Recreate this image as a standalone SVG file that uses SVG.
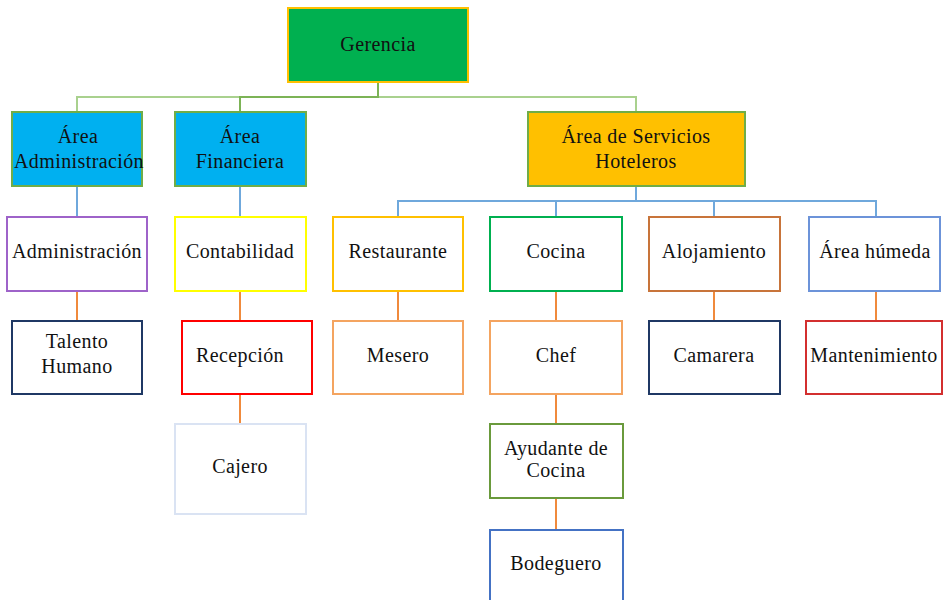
<svg xmlns="http://www.w3.org/2000/svg" width="944" height="600" viewBox="0 0 944 600">
<style>
text{font-family:"Liberation Serif","Times New Roman",serif;font-size:20px;fill:#111;text-anchor:middle;letter-spacing:0.4px}
.b{stroke-width:2}
.c{fill:none;stroke-width:2}
.g{stroke:#A9D18E}
.gd{stroke:#7CB356}
.bl{stroke:#6FA8DC}
.or{stroke:#F08A3C}
</style>
<rect width="944" height="600" fill="#fff"/>
<g id="connectors">
<path class="c g" d="M77 112V97H636V112"/>
<path class="c gd" d="M378 82V97H240V112"/>
<path class="c bl" d="M77 186V217M240 186V217"/>
<path class="c bl" d="M636 186V201M398 217V201H876V217M556 201V217M714 201V217"/>
<path class="c or" d="M77 291V321M240 291V321M240 394V424M398 291V321M556 291V321M556 394V424M556 498V530M714 291V321M876 291V321"/>
</g>
<g id="gerencia"><rect class="b" x="288" y="8" width="180" height="74" fill="#00B050" stroke="#FFC000"/><text x="378" y="51">Gerencia</text></g>
<g id="area-admin"><rect class="b" x="12" y="112" width="130" height="74" fill="#00B0F0" stroke="#70AD47"/><text x="78" y="143">Área</text><text x="79" y="168">Administración</text></g>
<g id="area-fin"><rect class="b" x="175" y="112" width="131" height="74" fill="#00B0F0" stroke="#70AD47"/><text x="240" y="143">Área</text><text x="240" y="168">Financiera</text></g>
<g id="area-serv"><rect class="b" x="528" y="112" width="217" height="74" fill="#FFC000" stroke="#70AD47"/><text x="636" y="143">Área de Servicios</text><text x="636" y="168">Hoteleros</text></g>
<g id="administracion"><rect class="b" x="7" y="217" width="140" height="74" fill="#fff" stroke="#9E63C9"/><text x="77" y="258">Administración</text></g>
<g id="talento"><rect class="b" x="12" y="321" width="130" height="73" fill="#fff" stroke="#1F3864"/><text x="77" y="348">Talento</text><text x="77" y="373">Humano</text></g>
<g id="contabilidad"><rect class="b" x="175" y="217" width="131" height="74" fill="#fff" stroke="#FFFF00"/><text x="240" y="258">Contabilidad</text></g>
<g id="recepcion"><rect class="b" x="182" y="321" width="130" height="73" fill="#fff" stroke="#FF0000"/><text x="240" y="362">Recepción</text></g>
<g id="cajero"><rect class="b" x="175" y="424" width="131" height="90" fill="#fff" stroke="#DAE3F3"/><text x="240" y="473">Cajero</text></g>
<g id="restaurante"><rect class="b" x="333" y="217" width="130" height="74" fill="#fff" stroke="#FFC000"/><text x="398" y="258">Restaurante</text></g>
<g id="mesero"><rect class="b" x="333" y="321" width="130" height="73" fill="#fff" stroke="#F4A460"/><text x="398" y="362">Mesero</text></g>
<g id="cocina"><rect class="b" x="490" y="217" width="132" height="74" fill="#fff" stroke="#00B050"/><text x="556" y="258">Cocina</text></g>
<g id="chef"><rect class="b" x="490" y="321" width="132" height="73" fill="#fff" stroke="#F4A460"/><text x="556" y="362">Chef</text></g>
<g id="ayudante"><rect class="b" x="490" y="424" width="133" height="74" fill="#fff" stroke="#6A9A3C"/><text x="556" y="455">Ayudante de</text><text x="556" y="477">Cocina</text></g>
<g id="bodeguero"><rect class="b" x="490" y="530" width="133" height="80" fill="#fff" stroke="#4472C4"/><text x="556" y="570">Bodeguero</text></g>
<g id="alojamiento"><rect class="b" x="649" y="217" width="131" height="74" fill="#fff" stroke="#C8743A"/><text x="714" y="258">Alojamiento</text></g>
<g id="camarera"><rect class="b" x="649" y="321" width="131" height="73" fill="#fff" stroke="#1F3864"/><text x="714" y="362">Camarera</text></g>
<g id="area-humeda"><rect class="b" x="809" y="217" width="131" height="74" fill="#fff" stroke="#6C93D9"/><text x="875" y="258">Área húmeda</text></g>
<g id="mantenimiento"><rect class="b" x="806" y="321" width="136" height="73" fill="#fff" stroke="#D32F2F"/><text x="874" y="362">Mantenimiento</text></g>
</svg>
